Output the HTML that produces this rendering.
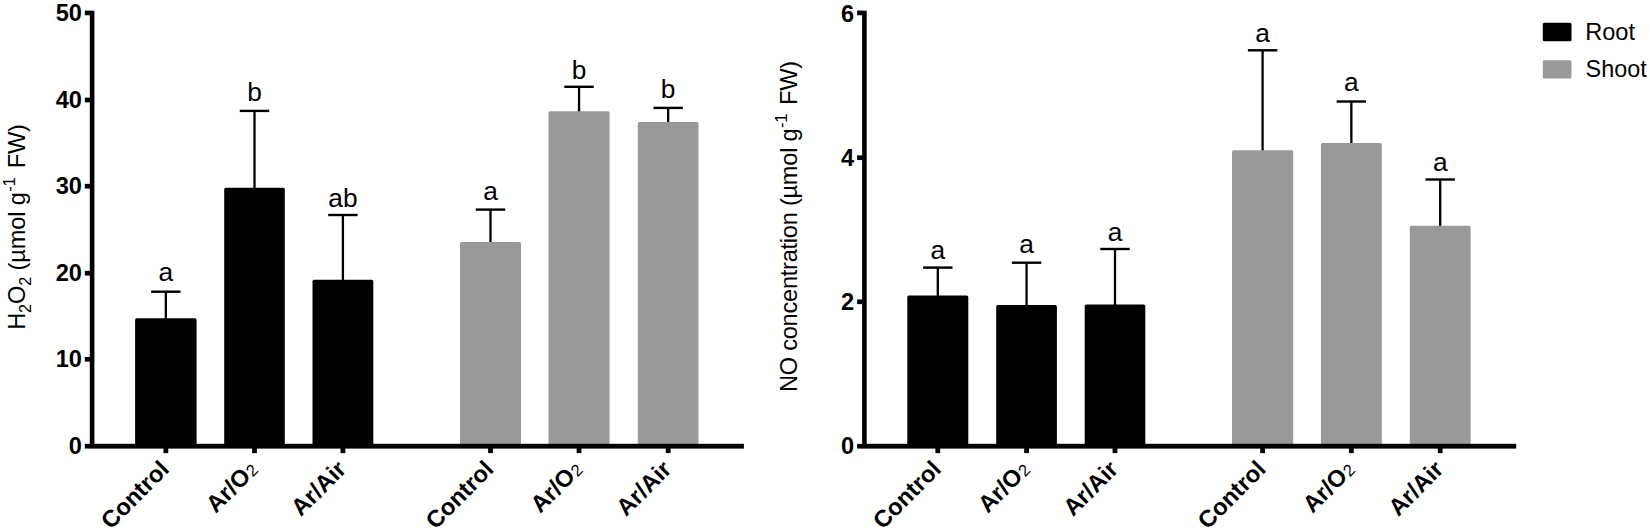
<!DOCTYPE html>
<html lang="en">
<head>
<meta charset="utf-8">
<title>H2O2 and NO concentration in root and shoot</title>
<style>
html,body{margin:0;padding:0;background:#fff;}
body{width:1650px;height:531px;overflow:hidden;}
svg{display:block;font-family:"Liberation Sans", sans-serif;fill:#000;}
</style>
</head>
<body>
<svg width="1650" height="531" viewBox="0 0 1650 531">
<rect x="0" y="0" width="1650" height="531" fill="#fff"/>
<g id="panel-left">
<rect x="164.70" y="291.70" width="2.3" height="27.60" fill="#000"/>
<rect x="151.15" y="290.50" width="29.4" height="2.4" fill="#000"/>
<rect x="135.10" y="318.30" width="61.50" height="127.90" rx="1.6" fill="#000"/>
<text x="165.85" y="281.00" font-size="26.3" text-anchor="middle">a</text>
<rect x="253.35" y="110.90" width="2.3" height="77.90" fill="#000"/>
<rect x="239.80" y="109.70" width="29.4" height="2.4" fill="#000"/>
<rect x="224.20" y="187.80" width="60.60" height="258.40" rx="1.6" fill="#000"/>
<text x="254.50" y="101.20" font-size="26.3" text-anchor="middle">b</text>
<rect x="341.75" y="215.00" width="2.3" height="65.70" fill="#000"/>
<rect x="328.20" y="213.80" width="29.4" height="2.4" fill="#000"/>
<rect x="312.50" y="279.70" width="60.80" height="166.50" rx="1.6" fill="#000"/>
<text x="342.90" y="207.00" font-size="26.3" text-anchor="middle">ab</text>
<rect x="489.35" y="209.60" width="2.3" height="33.30" fill="#000"/>
<rect x="475.80" y="208.40" width="29.4" height="2.4" fill="#000"/>
<rect x="460.00" y="241.90" width="61.00" height="204.30" rx="1.6" fill="#999999"/>
<text x="490.50" y="199.50" font-size="26.3" text-anchor="middle">a</text>
<rect x="577.90" y="86.80" width="2.3" height="25.40" fill="#000"/>
<rect x="564.35" y="85.60" width="29.4" height="2.4" fill="#000"/>
<rect x="548.50" y="111.20" width="61.10" height="335.00" rx="1.6" fill="#999999"/>
<text x="579.05" y="78.60" font-size="26.3" text-anchor="middle">b</text>
<rect x="667.00" y="107.90" width="2.3" height="15.10" fill="#000"/>
<rect x="653.45" y="106.70" width="29.4" height="2.4" fill="#000"/>
<rect x="637.80" y="122.00" width="60.70" height="324.20" rx="1.6" fill="#999999"/>
<text x="668.15" y="98.00" font-size="26.3" text-anchor="middle">b</text>
<rect x="89.80" y="10.70" width="4.60" height="435.50" fill="#000"/>
<rect x="89.80" y="443.80" width="654.10" height="4.8" fill="#000"/>
<rect x="84.80" y="443.85" width="5.5" height="4.7" fill="#000"/>
<text x="81.90" y="454.00" font-size="23.6" font-weight="bold" text-anchor="end">0</text>
<rect x="84.80" y="356.95" width="5.5" height="4.7" fill="#000"/>
<text x="81.90" y="367.30" font-size="23.6" font-weight="bold" text-anchor="end">10</text>
<rect x="84.80" y="270.85" width="5.5" height="4.7" fill="#000"/>
<text x="81.90" y="280.80" font-size="23.6" font-weight="bold" text-anchor="end">20</text>
<rect x="84.80" y="183.85" width="5.5" height="4.7" fill="#000"/>
<text x="81.90" y="194.10" font-size="23.6" font-weight="bold" text-anchor="end">30</text>
<rect x="84.80" y="97.65" width="5.5" height="4.7" fill="#000"/>
<text x="81.90" y="108.20" font-size="23.6" font-weight="bold" text-anchor="end">40</text>
<rect x="84.80" y="10.55" width="5.5" height="4.7" fill="#000"/>
<text x="81.90" y="21.40" font-size="23.6" font-weight="bold" text-anchor="end">50</text>
<rect x="163.45" y="446.20" width="4.8" height="6.9" fill="#000"/>
<text transform="translate(170.35,470.70) rotate(-45)" font-size="23.7" font-weight="bold" text-anchor="end">Control</text>
<rect x="252.10" y="446.20" width="4.8" height="6.9" fill="#000"/>
<text transform="translate(259.00,470.70) rotate(-45)" font-size="23.7" font-weight="bold" text-anchor="end">Ar/O<tspan font-size="16.5" font-weight="normal" dy="0.5" dx="0.8">2</tspan></text>
<rect x="340.50" y="446.20" width="4.8" height="6.9" fill="#000"/>
<text transform="translate(347.40,470.70) rotate(-45)" font-size="23.7" font-weight="bold" text-anchor="end">Ar/Air</text>
<rect x="488.10" y="446.20" width="4.8" height="6.9" fill="#000"/>
<text transform="translate(495.00,470.70) rotate(-45)" font-size="23.7" font-weight="bold" text-anchor="end">Control</text>
<rect x="576.65" y="446.20" width="4.8" height="6.9" fill="#000"/>
<text transform="translate(583.55,470.70) rotate(-45)" font-size="23.7" font-weight="bold" text-anchor="end">Ar/O<tspan font-size="16.5" font-weight="normal" dy="0.5" dx="0.8">2</tspan></text>
<rect x="665.75" y="446.20" width="4.8" height="6.9" fill="#000"/>
<text transform="translate(672.65,470.70) rotate(-45)" font-size="23.7" font-weight="bold" text-anchor="end">Ar/Air</text>
<text transform="translate(25.1,329.8) rotate(-90)" font-size="23.6" letter-spacing="-0.15">H<tspan font-size="16.3" dy="5.5">2</tspan><tspan dy="-5.5">O</tspan><tspan font-size="16.3" dy="5.5">2</tspan><tspan dy="-5.5"> (µmol g</tspan><tspan font-size="16.6" dy="-10.4" dx="0.6">-1</tspan><tspan dy="10.4" dx="2.6"> FW)</tspan></text>
</g>
<g id="panel-right">
<rect x="936.65" y="267.60" width="2.3" height="29.00" fill="#000"/>
<rect x="923.10" y="266.40" width="29.4" height="2.4" fill="#000"/>
<rect x="907.30" y="295.60" width="61.00" height="150.60" rx="1.6" fill="#000"/>
<text x="937.80" y="258.60" font-size="26.3" text-anchor="middle">a</text>
<rect x="1025.40" y="262.70" width="2.3" height="43.40" fill="#000"/>
<rect x="1011.85" y="261.50" width="29.4" height="2.4" fill="#000"/>
<rect x="996.20" y="305.10" width="60.70" height="141.10" rx="1.6" fill="#000"/>
<text x="1026.55" y="253.00" font-size="26.3" text-anchor="middle">a</text>
<rect x="1113.85" y="249.00" width="2.3" height="56.50" fill="#000"/>
<rect x="1100.30" y="247.80" width="29.4" height="2.4" fill="#000"/>
<rect x="1084.70" y="304.50" width="60.60" height="141.70" rx="1.6" fill="#000"/>
<text x="1115.00" y="240.80" font-size="26.3" text-anchor="middle">a</text>
<rect x="1261.45" y="50.30" width="2.3" height="101.00" fill="#000"/>
<rect x="1247.90" y="49.10" width="29.4" height="2.4" fill="#000"/>
<rect x="1232.00" y="150.30" width="61.20" height="295.90" rx="1.6" fill="#999999"/>
<text x="1262.60" y="42.00" font-size="26.3" text-anchor="middle">a</text>
<rect x="1350.20" y="101.50" width="2.3" height="42.50" fill="#000"/>
<rect x="1336.65" y="100.30" width="29.4" height="2.4" fill="#000"/>
<rect x="1320.90" y="143.00" width="60.90" height="303.20" rx="1.6" fill="#999999"/>
<text x="1351.35" y="90.80" font-size="26.3" text-anchor="middle">a</text>
<rect x="1439.05" y="179.50" width="2.3" height="47.20" fill="#000"/>
<rect x="1425.50" y="178.30" width="29.4" height="2.4" fill="#000"/>
<rect x="1409.80" y="225.70" width="60.80" height="220.50" rx="1.6" fill="#999999"/>
<text x="1440.20" y="170.90" font-size="26.3" text-anchor="middle">a</text>
<rect x="862.10" y="10.70" width="4.60" height="435.50" fill="#000"/>
<rect x="862.10" y="443.80" width="654.10" height="4.8" fill="#000"/>
<rect x="857.10" y="443.85" width="5.5" height="4.7" fill="#000"/>
<text x="854.20" y="454.00" font-size="23.6" font-weight="bold" text-anchor="end">0</text>
<rect x="857.10" y="299.45" width="5.5" height="4.7" fill="#000"/>
<text x="854.20" y="309.60" font-size="23.6" font-weight="bold" text-anchor="end">2</text>
<rect x="857.10" y="155.35" width="5.5" height="4.7" fill="#000"/>
<text x="854.20" y="166.00" font-size="23.6" font-weight="bold" text-anchor="end">4</text>
<rect x="857.10" y="10.55" width="5.5" height="4.7" fill="#000"/>
<text x="854.20" y="21.70" font-size="23.6" font-weight="bold" text-anchor="end">6</text>
<rect x="935.40" y="446.20" width="4.8" height="6.9" fill="#000"/>
<text transform="translate(942.30,470.70) rotate(-45)" font-size="23.7" font-weight="bold" text-anchor="end">Control</text>
<rect x="1024.15" y="446.20" width="4.8" height="6.9" fill="#000"/>
<text transform="translate(1031.05,470.70) rotate(-45)" font-size="23.7" font-weight="bold" text-anchor="end">Ar/O<tspan font-size="16.5" font-weight="normal" dy="0.5" dx="0.8">2</tspan></text>
<rect x="1112.60" y="446.20" width="4.8" height="6.9" fill="#000"/>
<text transform="translate(1119.50,470.70) rotate(-45)" font-size="23.7" font-weight="bold" text-anchor="end">Ar/Air</text>
<rect x="1260.20" y="446.20" width="4.8" height="6.9" fill="#000"/>
<text transform="translate(1267.10,470.70) rotate(-45)" font-size="23.7" font-weight="bold" text-anchor="end">Control</text>
<rect x="1348.95" y="446.20" width="4.8" height="6.9" fill="#000"/>
<text transform="translate(1355.85,470.70) rotate(-45)" font-size="23.7" font-weight="bold" text-anchor="end">Ar/O<tspan font-size="16.5" font-weight="normal" dy="0.5" dx="0.8">2</tspan></text>
<rect x="1437.80" y="446.20" width="4.8" height="6.9" fill="#000"/>
<text transform="translate(1444.70,470.70) rotate(-45)" font-size="23.7" font-weight="bold" text-anchor="end">Ar/Air</text>
<text transform="translate(797.2,392) rotate(-90)" font-size="23.6" letter-spacing="-0.25">NO concentration (µmol g<tspan font-size="16.6" dy="-10.4" dx="0.6">-1</tspan><tspan dy="10.4" dx="2.6"> FW)</tspan></text>
</g>
<g id="legend">
<rect x="1542.8" y="22.8" width="28.7" height="18.4" rx="1.5" fill="#000"/>
<rect x="1542.8" y="60.2" width="28.7" height="18.4" rx="1.5" fill="#999999"/>
<text x="1585.2" y="40.3" font-size="23.6">Root</text>
<text x="1585.6" y="77.2" font-size="23.4">Shoot</text>
</g>
</svg>
</body>
</html>
